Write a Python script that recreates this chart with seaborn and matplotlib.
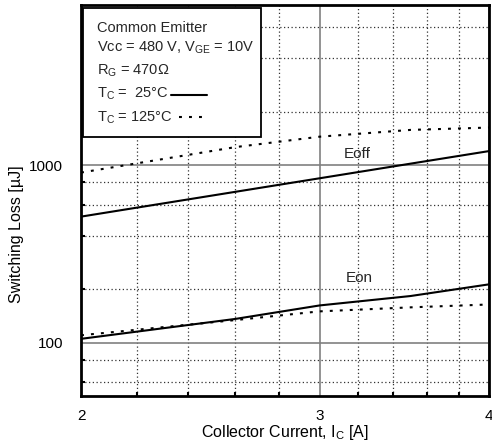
import numpy as np
import pandas as pd
import matplotlib
matplotlib.use("Agg")
import matplotlib.pyplot as plt
import matplotlib.ticker as mticker
import seaborn as sns
from matplotlib.patches import Rectangle
from matplotlib.lines import Line2D

# ---- data ----
current = [2.0, 2.6, 3.0, 3.5, 4.0]
eoff_25 = [513, 708, 844, 1020, 1201]
eoff_125 = [909, 1265, 1448, 1581, 1630]
eon_25 = [105, 136, 162, 183, 213]
eon_125 = [110, 134, 150, 158, 164]

x_ticks = [2, 3, 4]
x_minor = [2.2, 2.4, 2.6, 2.8, 3.2, 3.4, 3.6, 3.8]
y_ticks = [100, 1000]
y_minor = [60, 80, 200, 400, 600, 800, 2000, 4000, 6000]

sns.set_theme(style="white")
plt.rcParams['font.family'] = ['Liberation Sans', 'DejaVu Sans']
plt.rcParams['mathtext.fontset'] = 'custom'
plt.rcParams['mathtext.rm'] = 'Liberation Sans'
plt.rcParams['mathtext.it'] = 'Liberation Sans'

df = pd.DataFrame({
    'Ic': current * 4,
    'E': eoff_25 + eoff_125 + eon_25 + eon_125,
    'series': ['eoff25'] * 5 + ['eoff125'] * 5 + ['eon25'] * 5 + ['eon125'] * 5,
})

W, Hpx = 492, 447
L, R, T, B = 81, 489, 5, 396
fig = plt.figure(figsize=(W / 100, Hpx / 100), dpi=100)
ax = fig.add_axes([L / W, 1 - B / Hpx, (R - L) / W, (B - T) / Hpx])

dotted = (0, (1.4, 3.4))
for name, style in [('eoff25', '-'), ('eoff125', dotted), ('eon25', '-'), ('eon125', dotted)]:
    sub = df[df['series'] == name]
    sns.lineplot(data=sub, x='Ic', y='E', ax=ax, color='black', lw=1.5,
                 linestyle=style, legend=False, zorder=5)

ax.set_xscale('log')
ax.set_yscale('log')
ax.set_xlim(2, 4)
ax.set_ylim(50, 8000)

ax.set_xticks(x_ticks)
ax.xaxis.set_major_formatter(mticker.FixedFormatter([str(t) for t in x_ticks]))
ax.set_xticks(x_minor, minor=True)
ax.xaxis.set_minor_formatter(mticker.NullFormatter())
ax.set_yticks(y_ticks)
ax.yaxis.set_major_formatter(mticker.FixedFormatter(['100', '1000']))
ax.set_yticks(y_minor, minor=True)
ax.yaxis.set_minor_formatter(mticker.NullFormatter())

ax.grid(True, which='major', color='#808080', lw=1.2, ls='-', zorder=1)
ax.grid(True, which='minor', color='#333333', lw=0.9, ls=(0, (1, 2)), zorder=1)
ax.set_axisbelow(True)

ax.tick_params(axis='both', which='major', length=0, labelsize=11, colors='black')
ax.tick_params(axis='x', which='major', pad=9)
ax.tick_params(axis='y', which='major', pad=13)
ax.tick_params(axis='both', which='minor', direction='in', length=3, width=1.5,
               bottom=True, left=True, colors='black')

for s in ax.spines.values():
    s.set_color('black')
    s.set_linewidth(2)

ax.set_xlabel(r'Collector Current, I$_{\mathrm{C}}$ [A]', fontsize=11.5, color='black')
ax.set_ylabel('Switching Loss [µJ]', fontsize=11.5, color='black')
ax.xaxis.set_label_coords(0.5, -(432 - B) / (B - T), transform=ax.transAxes)
ax.yaxis.set_label_coords(-(L - 17) / (R - L), (B - 234) / (B - T), transform=ax.transAxes)
ax.xaxis.label.set_va('center')
ax.yaxis.label.set_va('center')


def fx(px):
    return (px - L) / (R - L)


def fy(py):
    return (B - py) / (B - T)


ax.add_patch(Rectangle((fx(83), fy(137)), fx(261) - fx(83), fy(8) - fy(137),
                       transform=ax.transAxes, facecolor='white',
                       edgecolor='black', lw=1.3, zorder=6))
fs = 10.5
tx = fx(97)
ax.text(tx, fy(28), 'Common Emitter', transform=ax.transAxes, fontsize=fs, va='center', zorder=7)
ax.text(tx, fy(48), r'Vcc = 480 V, V$_{\mathrm{GE}}$ = 10V', transform=ax.transAxes, fontsize=fs, va='center', zorder=7)
ax.text(tx, fy(71), r'R$_{\mathrm{G}}$ = 470Ω', transform=ax.transAxes, fontsize=fs, va='center', zorder=7)
ax.text(tx, fy(94), r'T$_{\mathrm{C}}$ =  25°C', transform=ax.transAxes, fontsize=fs, va='center', zorder=7)
ax.text(tx, fy(118), r'T$_{\mathrm{C}}$ = 125°C', transform=ax.transAxes, fontsize=fs, va='center', zorder=7)
ax.add_line(Line2D([fx(171), fx(207)], [fy(95), fy(95)], transform=ax.transAxes,
                   color='black', lw=1.5, zorder=7))
ax.add_line(Line2D([fx(179), fx(207)], [fy(117), fy(117)], transform=ax.transAxes,
                   color='black', lw=1.5, ls=dotted, zorder=7))

ax.text(fx(357), fy(154), 'Eoff', transform=ax.transAxes, fontsize=11, ha='center', va='center', zorder=7)
ax.text(fx(359), fy(278), 'Eon', transform=ax.transAxes, fontsize=11, ha='center', va='center', zorder=7)

fig.savefig('out.png', dpi=100)
